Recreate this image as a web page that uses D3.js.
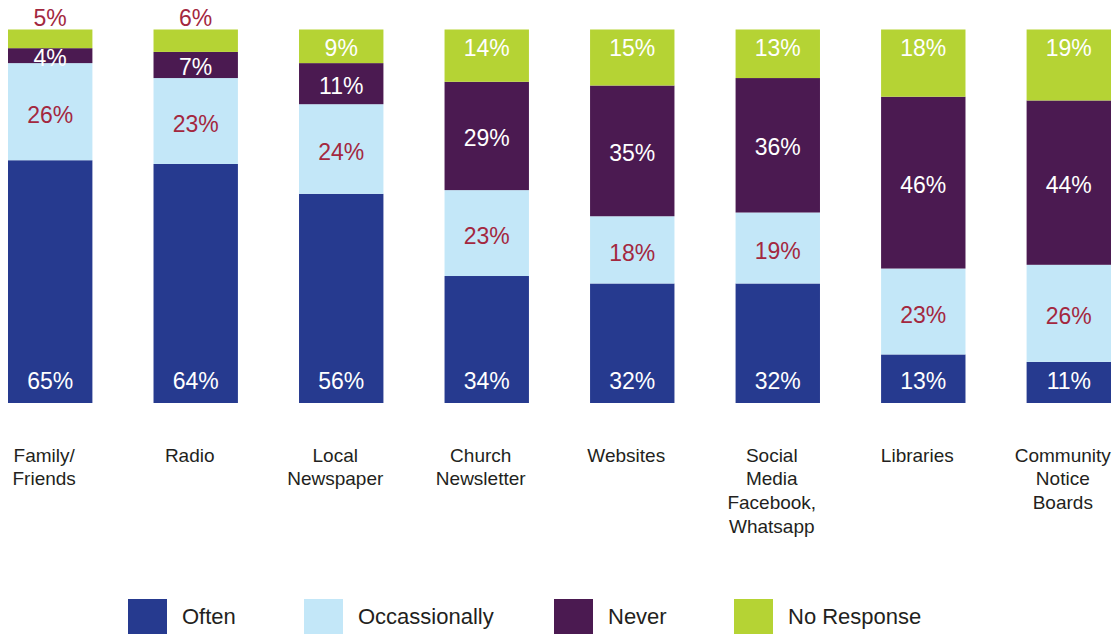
<!DOCTYPE html>
<html><head><meta charset="utf-8">
<script src="https://cdn.jsdelivr.net/npm/d3@7"></script>
<style>html,body{margin:0;padding:0;background:#fff;}svg{display:block;}</style>
</head><body>
<svg id="chart" width="1118" height="634"></svg>
<script>
const categories = ["Family/ Friends","Radio","Local Newspaper","Church Newsletter","Websites","Social Media Facebook, Whatsapp","Libraries","Community Notice Boards"];
const categoryLines = [["Family/","Friends"],["Radio"],["Local","Newspaper"],["Church","Newsletter"],["Websites"],["Social","Media","Facebook,","Whatsapp"],["Libraries"],["Community","Notice","Boards"]];
const seriesNames = ["Often","Occassionally","Never","No Response"];
const often = [65,64,56,34,32,32,13,11];
const occasionally = [26,23,24,23,18,19,23,26];
const never = [4,7,11,29,35,36,46,44];
const noResponse = [5,6,9,14,15,13,18,19];
const colors = ["#263a8f","#c3e7f8","#4b1a51","#b5d334"];
const labelRed = "#a3283f";

const svg = d3.select("#chart");
const x = d3.scaleBand().domain(categories).range([8, 1111]).paddingInner(0.42).paddingOuter(0);
const y = d3.scaleLinear().domain([0, 100]).range([403, 29.5]);

const rows = categories.map((c, i) => ({cat: c, Often: often[i], Occassionally: occasionally[i], Never: never[i], "No Response": noResponse[i]}));
const stacked = d3.stack().keys(seriesNames)(rows);

const font = "'Liberation Sans', Arial, Helvetica, sans-serif";

svg.append("g").selectAll("g").data(stacked).join("g")
  .attr("fill", (d, i) => colors[i])
  .selectAll("rect").data(d => d).join("rect")
  .attr("x", d => x(d.data.cat))
  .attr("width", x.bandwidth())
  .attr("y", d => y(d[1]))
  .attr("height", d => y(d[0]) - y(d[1]));

// value labels
const lab = svg.append("g").attr("font-family", font).attr("font-size", 23).attr("text-anchor", "middle");
stacked.forEach((s, si) => {
  s.forEach(d => {
    const v = d[1] - d[0];
    const cx = x(d.data.cat) + x.bandwidth() / 2;
    let cy, fill = "#fff";
    if (si === 0) { cy = y(0) - 22; }
    else if (si === 1) { cy = (y(d[0]) + y(d[1])) / 2 + 3; fill = labelRed; }
    else if (si === 2) { cy = (y(d[0]) + y(d[1])) / 2 + 2; }
    else {
      if (v < 8) { cy = y(100) - 12; fill = labelRed; }
      else { cy = y(100) + 18; }
    }
    lab.append("text").attr("x", cx).attr("y", cy).attr("dy", "0.35em")
      .attr("fill", fill).text(v + "%");
  });
});

// category labels
const cl = svg.append("g").attr("font-family", font).attr("font-size", 19).attr("fill", "#231f20").attr("text-anchor", "middle");
categories.forEach((c, i) => {
  const cx = x(c) + x.bandwidth() / 2 - 6;
  const t = cl.append("text").attr("x", cx).attr("y", 455);
  categoryLines[i].forEach((ln, j) => {
    t.append("tspan").attr("x", cx).attr("dy", j === 0 ? "0.35em" : 23.7).text(ln);
  });
});

// legend
const legendX = [128, 304, 554, 734];
const lg = svg.append("g").attr("font-family", font).attr("font-size", 22).attr("fill", "#231f20");
seriesNames.forEach((n, i) => {
  lg.append("rect").attr("x", legendX[i]).attr("y", 599).attr("width", 39).attr("height", 39).attr("fill", colors[i]);
  lg.append("text").attr("x", legendX[i] + 54).attr("y", 616).attr("dy", "0.35em").text(n);
});
</script>
</body></html>
